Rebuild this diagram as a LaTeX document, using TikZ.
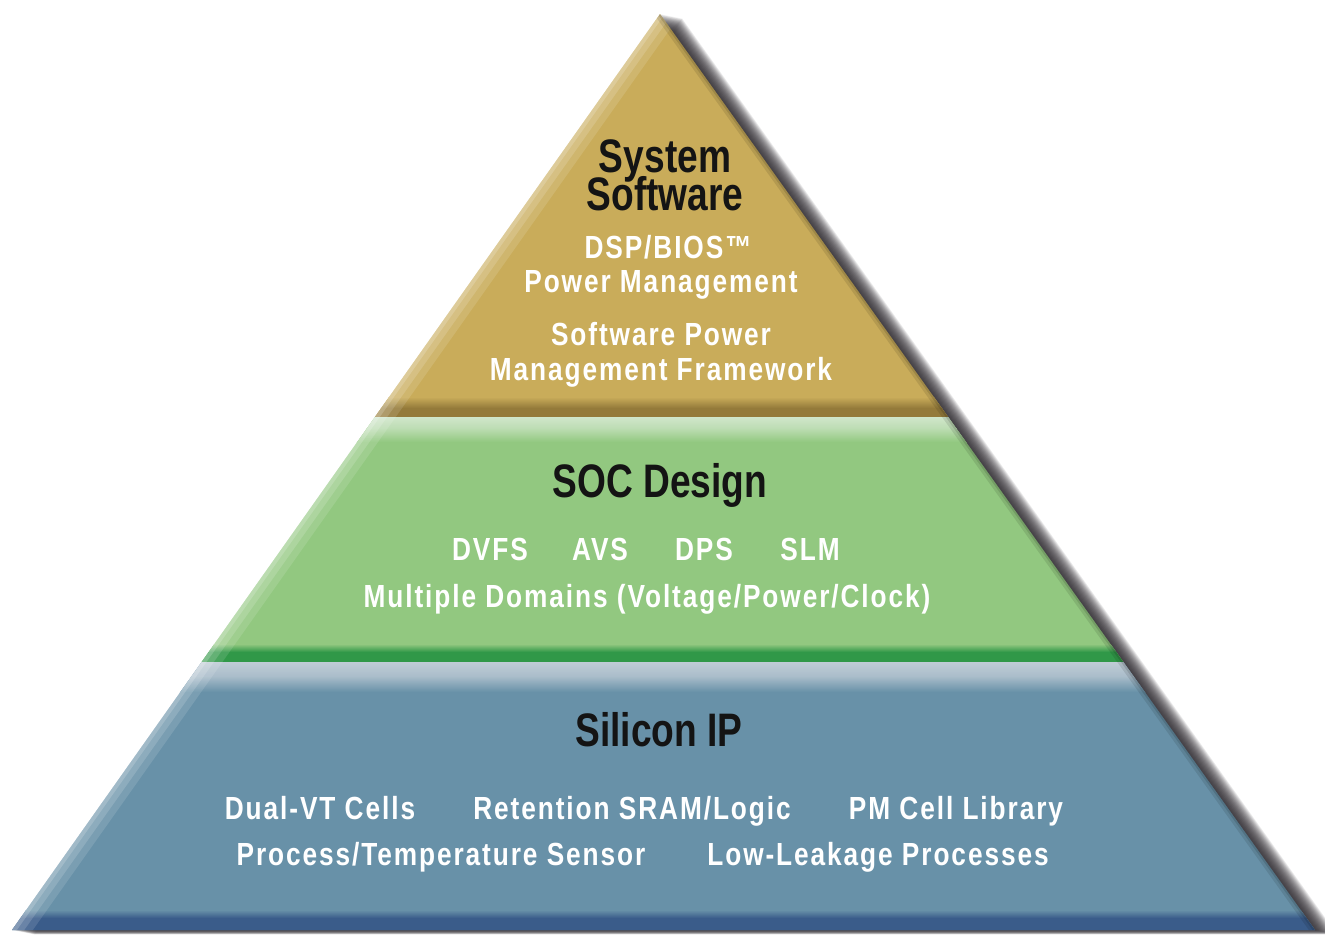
\documentclass[tikz,border=0pt]{standalone}
\usepackage{fontspec}
\setmainfont{Liberation Sans}
\newfontfamily\titlefont{Liberation Sans Bold}[FakeStretch=0.79]
\newfontfamily\itemfont{Liberation Sans Bold}[FakeStretch=0.82,LetterSpace=6]
\definecolor{gold}{RGB}{201,172,90}
\definecolor{golddark}{RGB}{148,122,58}
\definecolor{grn}{RGB}{146,200,128}
\definecolor{grnlight}{RGB}{208,230,202}
\definecolor{grndark}{RGB}{48,152,72}
\definecolor{blu}{RGB}{104,145,168}
\definecolor{blulight}{RGB}{192,204,214}
\definecolor{bludark}{RGB}{58,92,138}
\definecolor{shadowc}{RGB}{40,36,42}
\begin{document}
\begin{tikzpicture}[x=1pt,y=-1pt,
  ttl/.style={font=\titlefont\fontsize{47}{47}\selectfont, text=black!92, anchor=base, inner sep=0pt},
  itm/.style={font=\itemfont\fontsize{32}{32}\selectfont, text=white, anchor=base, inner sep=0pt}]
\useasboundingbox (0,0) rectangle (1325,935);
\coordinate (A) at (660,14);
\coordinate (R) at (1315,930);
\coordinate (L) at (12,930);
% soft shadow to the right
\foreach \i in {1,...,22}{
  \fill[shadowc, opacity=0.085]
    ([xshift=\i*1.0pt, yshift=-\i*0.2pt]A) --
    ([xshift=\i*1.0pt, yshift=-\i*0.2pt]R) --
    ([xshift=\i*1.0pt, yshift=-\i*0.2pt]L) -- cycle;
}
\begin{scope}
  \clip (A) -- (R) -- (L) -- cycle;
  % gold band
  \fill[gold] (0,0) rectangle (1325,417);
  \shade[top color=gold, bottom color=golddark] (0,397) rectangle (1325,408);
  \fill[golddark] (0,408) rectangle (1325,417);
  % green band
  \fill[grn] (0,417) rectangle (1325,662);
  \shade[top color=grnlight, bottom color=grnlight!70!grn] (0,417) rectangle (1325,428);
  \shade[top color=grnlight!70!grn, bottom color=grn] (0,428) rectangle (1325,442);
  \shade[top color=grn, bottom color=grndark] (0,644) rectangle (1325,652);
  \fill[grndark] (0,652) rectangle (1325,662);
  % blue band
  \fill[blu] (0,662) rectangle (1325,935);
  \shade[top color=blulight, bottom color=blulight!75!blu] (0,662) rectangle (1325,676);
  \shade[top color=blulight!75!blu, bottom color=blu] (0,676) rectangle (1325,692);
  \shade[top color=blu, bottom color=bludark] (0,910) rectangle (1325,918);
  \fill[bludark] (0,918) rectangle (1325,935);
  % left bevel highlight
  \draw[white, opacity=0.12, line width=34pt] (A) -- (L);
  \draw[white, opacity=0.15, line width=20pt] (A) -- (L);
  \draw[white, opacity=0.18, line width=8pt] (A) -- (L);
  % right edge darkening
  \draw[black, opacity=0.10, line width=10pt] (A) -- (R);
  \draw[black, opacity=0.12, line width=4pt] (A) -- (R);
\end{scope}
% texts
\node[ttl, align=center, font=\titlefont\fontsize{47}{37}\selectfont] (sys) at (665,210) {System\\[-7pt]Software};
\node[itm] (dsp1) at (668,258) {DSP/BIOS™};
\node[itm] (dsp2) at (661,292) {Power Management};
\node[itm] (swp1) at (661,345) {Software Power};
\node[itm] (swp2) at (661,380) {Management Framework};
\node[ttl] (soc) at (660,497) {SOC Design};
\node[itm] (dvfs) at (490,560) {DVFS};
\node[itm] (avs) at (600,560) {AVS};
\node[itm] (dps) at (704,560) {DPS};
\node[itm] (slm) at (810,560) {SLM};
\node[itm] (mdom) at (647,607) {Multiple Domains (Voltage/Power/Clock)};
\node[ttl] (sip) at (659,746) {Silicon IP};
\node[itm] (dvt) at (320,819) {Dual-VT Cells};
\node[itm] (ret) at (632,819) {Retention SRAM/Logic};
\node[itm] (pmc) at (956,819) {PM Cell Library};
\node[itm] (pts) at (441,865) {Process/Temperature Sensor};
\node[itm] (llp) at (878,865) {Low-Leakage Processes};
\end{tikzpicture}
\end{document}
